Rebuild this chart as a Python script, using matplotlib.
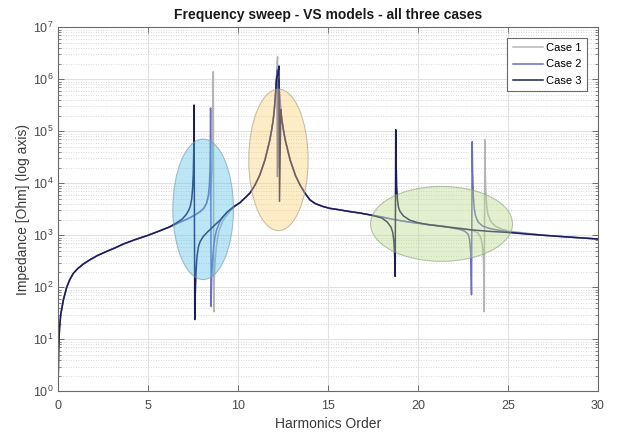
import matplotlib
matplotlib.use("Agg")
import matplotlib.pyplot as plt
from matplotlib.patches import Ellipse
from matplotlib.ticker import NullFormatter, FixedLocator, LogFormatterSciNotation

plt.rcParams['font.family'] = ['Liberation Sans', 'DejaVu Sans']

# Frequency sweep results (harmonic order vs impedance magnitude in Ohm)
harmonics_case1 = [0.008, 0.03, 0.08, 0.15, 0.3, 0.48, 0.65, 0.85, 1.1, 1.4, 1.78, 2.2, 2.7,
                   3.2, 3.63, 4.3, 5.0, 5.6, 6.2, 6.8, 7.3, 7.6, 7.9, 8.1, 8.25, 8.35,
                   8.45, 8.52, 8.57, 8.6, 8.63, 8.66, 8.69, 8.73, 8.8, 8.88, 8.96, 9.15,
                   9.33, 9.6, 9.85, 10.1, 10.67, 10.95, 11.2, 11.5, 11.75, 11.85, 11.96,
                   12.02, 12.09, 12.14, 12.2, 12.23, 12.26, 12.31, 12.38, 12.44, 12.55,
                   12.65, 12.9, 13.2, 13.45, 13.72, 14.0, 14.28, 14.7, 15.1, 15.5, 16.1,
                   16.78, 17.4, 18.0, 18.7, 19.5, 20.5, 21.5, 22.33, 22.8, 23.1, 23.35,
                   23.5, 23.6, 23.65, 23.69, 23.72, 23.74, 23.78, 23.83, 23.9, 24.05,
                   24.3, 24.7, 25.1, 26.0, 27.0, 28.5, 30.0]
impedance_case1 = [1.6, 6, 16, 30, 58, 100, 140, 186, 230, 280, 340, 410, 490,
                   580, 680, 830, 1000, 1200, 1450, 1800, 2150, 2450, 2850, 3300, 4100, 5200,
                   7500, 11000, 22000, 60000, 1.4e6, 34, 150, 320, 600, 950, 1260, 1850,
                   2300, 3000, 3650, 4200, 6500, 9300, 14000, 28000, 63000, 95000, 1.66e5,
                   2.6e5, 5.4e5, 1.0e6, 2.7e6, 2.0e4, 1.0e6, 5.4e5, 2.6e5, 1.66e5, 95000,
                   63000, 28000, 14000, 9300, 6500, 4800, 4100, 3600, 3300, 3150, 2900,
                   2680, 2450, 2250, 2000, 1800, 1620, 1480, 1380, 1300, 1220, 1100,
                   900, 600, 320, 34, 6.9e4, 20000, 6500, 3500, 2500, 1850,
                   1500, 1300, 1200, 1100, 1010, 920, 850]

harmonics_case2 = [0.008, 0.03, 0.08, 0.15, 0.3, 0.48, 0.65, 0.85, 1.1, 1.4, 1.78, 2.2, 2.7,
                   3.2, 3.63, 4.3, 5.0, 5.6, 6.2, 6.8, 7.3, 7.6, 7.9, 8.1, 8.25, 8.35,
                   8.41, 8.45, 8.47, 8.48, 8.51, 8.54, 8.58, 8.65, 8.73, 8.81, 9.0, 9.18,
                   9.5, 9.8, 10.1, 10.67, 10.95, 11.2, 11.5, 11.75, 11.85, 11.96,
                   12.02, 12.09, 12.14, 12.17, 12.19, 12.26, 12.31, 12.38, 12.44, 12.55,
                   12.65, 12.9, 13.2, 13.45, 13.72, 14.0, 14.28, 14.7, 15.1, 15.5, 16.1,
                   16.78, 17.4, 18.0, 18.7, 19.5, 20.5, 21.5, 22.33, 22.6, 22.8, 22.88,
                   22.94, 22.98, 23.02, 23.04, 23.08, 23.13, 23.2, 23.35, 23.6, 24.0,
                   24.6, 25.1, 26.0, 27.0, 28.5, 30.0]
impedance_case2 = [1.6, 6, 16, 30, 58, 100, 140, 186, 230, 280, 340, 410, 490,
                   580, 680, 830, 1000, 1200, 1450, 1800, 2150, 2450, 2850, 3300, 4100, 5800,
                   9000, 20000, 60000, 2.8e5, 43, 150, 320, 600, 950, 1260, 1850, 2300,
                   3000, 3650, 4200, 6500, 9300, 14000, 28000, 63000, 95000, 1.66e5,
                   2.6e5, 5.4e5, 1.0e6, 1.5e6, 1.35e4, 1.0e6, 5.4e5, 2.6e5, 1.66e5, 95000,
                   63000, 28000, 14000, 9300, 6500, 4800, 4100, 3600, 3300, 3150, 2900,
                   2680, 2450, 2250, 2000, 1800, 1620, 1480, 1300, 1200, 1050, 800,
                   450, 72, 6.3e4, 18000, 6000, 3300, 2400, 1800, 1500, 1350,
                   1230, 1150, 1080, 1000, 920, 850]

harmonics_case3 = [0.008, 0.03, 0.08, 0.15, 0.3, 0.48, 0.65, 0.85, 1.1, 1.4, 1.78, 2.2, 2.7,
                   3.2, 3.63, 4.3, 5.0, 5.6, 6.2, 6.6, 6.9, 7.1, 7.25, 7.35, 7.43, 7.48,
                   7.52, 7.545, 7.56, 7.6, 7.63, 7.67, 7.72, 7.8, 7.9, 8.07, 8.3, 8.63,
                   9.0, 9.4, 9.8, 10.1, 10.67, 10.95, 11.2, 11.5, 11.75, 11.85, 11.96,
                   12.02, 12.09, 12.14, 12.22, 12.28, 12.31, 12.38, 12.44, 12.55,
                   12.65, 12.9, 13.2, 13.45, 13.72, 14.0, 14.28, 14.7, 15.1, 15.5, 16.1,
                   16.78, 17.4, 18.0, 18.3, 18.5, 18.6, 18.67, 18.71, 18.74, 18.77, 18.79,
                   18.82, 18.86, 18.92, 19.0, 19.2, 19.56, 20.0, 20.5, 21.5, 22.33, 23.0,
                   24.0, 25.1, 26.0, 27.0, 28.5, 30.0]
impedance_case3 = [1.6, 6, 16, 30, 58, 100, 140, 186, 230, 280, 340, 410, 490,
                   580, 680, 830, 1000, 1200, 1450, 1750, 2050, 2450, 2950, 3600, 5000, 8000,
                   16000, 50000, 3.2e5, 24, 80, 200, 380, 600, 760, 950, 1150, 1480,
                   1950, 2800, 3600, 4200, 6500, 9300, 14000, 28000, 63000, 95000, 1.66e5,
                   2.6e5, 5.4e5, 1.0e6, 1.3e6, 1.8e6, 4.5e3, 2.6e5, 1.66e5, 95000,
                   63000, 28000, 14000, 9300, 6500, 4800, 4100, 3600, 3300, 3150, 2900,
                   2680, 2450, 2150, 1800, 1450, 1150, 750, 400, 162, 1.07e5, 28000,
                   9000, 5000, 3500, 2900, 2350, 1950, 1750, 1620, 1460, 1350, 1270,
                   1190, 1130, 1060, 1000, 920, 850]

case_labels = ["Case 1", "Case 2", "Case 3"]
case_colors = ["#b5b5b5", "#6c6cc0", "#1c1c5c"]
x_ticks = [0, 5, 10, 15, 20, 25, 30]
y_decades = [1e0, 1e1, 1e2, 1e3, 1e4, 1e5, 1e6, 1e7]

fig = plt.figure(figsize=(6.24, 4.32), dpi=100)
ax = fig.add_axes([0.093, 0.094, 0.865, 0.843])

series = [(harmonics_case1, impedance_case1),
          (harmonics_case2, impedance_case2),
          (harmonics_case3, impedance_case3)]
for (h, z), lab, col in zip(series, case_labels, case_colors):
    ax.plot(h, z, color=col, lw=1.1, label=lab, zorder=2)

ax.set_yscale('log')
ax.set_xlim(0, 30)
ax.set_ylim(1, 1e7)
ax.xaxis.set_major_locator(FixedLocator(x_ticks))
ax.yaxis.set_major_locator(FixedLocator(y_decades))
ax.yaxis.set_major_formatter(LogFormatterSciNotation())
minor = [m * d for d in y_decades[:-1] for m in range(2, 10)]
ax.yaxis.set_minor_locator(FixedLocator(minor))
ax.yaxis.set_minor_formatter(NullFormatter())

ax.set_axisbelow(True)
ax.grid(True, which='major', color='#e2e2e2', lw=0.8)
ax.yaxis.grid(True, which='minor', color='#cdcdcd', lw=0.6, linestyle=(0, (1, 2)))

ax.tick_params(which='both', direction='in', top=True, right=True,
               colors='#5a5a5a', labelcolor='#4a4a4a', labelsize=9)
ax.tick_params(axis='x', pad=6)
ax.tick_params(which='major', length=4, width=0.6)
ax.tick_params(which='minor', length=2, width=0.5)
for sp in ax.spines.values():
    sp.set_color('#6a6a6a')
    sp.set_linewidth(0.8)


def highlight(ax, h_lo, h_hi, z_lo, z_hi, face, edge):
    inv = ax.transAxes.inverted()
    x0, y0 = inv.transform(ax.transData.transform((h_lo, z_lo)))
    x1, y1 = inv.transform(ax.transData.transform((h_hi, z_hi)))
    e = Ellipse(((x0 + x1) / 2, (y0 + y1) / 2), x1 - x0, y1 - y0,
                transform=ax.transAxes, facecolor=face, edgecolor=edge,
                lw=0.8, zorder=3)
    ax.add_patch(e)


highlight(ax, 6.38, 9.75, 141, 70800, (0.31, 0.75, 0.91, 0.38), (0.45, 0.6, 0.68, 0.6))
highlight(ax, 10.6, 13.9, 1230, 6.46e5, (0.98, 0.81, 0.42, 0.38), (0.65, 0.6, 0.5, 0.6))
highlight(ax, 17.37, 25.26, 316, 8700, (0.71, 0.85, 0.51, 0.38), (0.55, 0.62, 0.5, 0.6))

ax.set_title("Frequency sweep - VS models - all three cases", fontsize=10,
             fontweight='bold', color='#1a1a1a', pad=6)
ax.set_xlabel("Harmonics Order", fontsize=10, color='#3a3a3a', labelpad=4)
ax.set_ylabel("Impedance [Ohm] (log axis)", fontsize=10, color='#3a3a3a', labelpad=2)

leg = ax.legend(loc='upper right', fontsize=8, frameon=True, fancybox=False,
                edgecolor='#6a6a6a', framealpha=1, handlelength=2.7,
                borderaxespad=0.95, labelspacing=0.55, handletextpad=0.3,
                borderpad=0.5)
leg.get_frame().set_linewidth(0.8)
leg.set_zorder(5)

fig.savefig("out.png", dpi=100)
